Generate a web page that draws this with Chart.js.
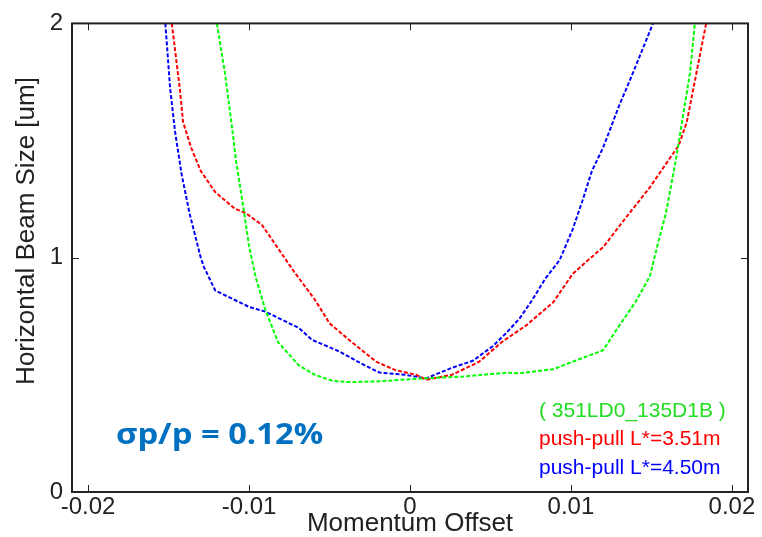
<!DOCTYPE html>
<html>
<head>
<meta charset="utf-8">
<script src="https://cdn.jsdelivr.net/npm/chart.js@4/dist/chart.umd.min.js"></script>
<style>
  html, body { margin: 0; padding: 0; background: #fff; }
  #wrap { width: 762px; height: 537px; }
</style>
</head>
<body>
<div id="wrap"><canvas id="beamChart" width="762" height="537"></canvas></div>
<script>
// --- data ---
const seriesNames = ['( 351LD0_135D1B )', 'push-pull L*=3.51m', 'push-pull L*=4.50m'];
const seriesColors = ['#00ff00', '#ff0000', '#0000ff'];

const baseOffset = [-0.0120, -0.0115, -0.0111, -0.0108, -0.0103, -0.0100, -0.0096, -0.0090, -0.0082, -0.0069,
  -0.0059, -0.0048, -0.0038, -0.0021, -0.0005, 0.0009, 0.0033, 0.0060, 0.0068, 0.0089,
  0.0101, 0.0120, 0.0130, 0.0140, 0.0149, 0.0154, 0.0159, 0.0165, 0.0169, 0.0174, 0.0177];
const baseSize = [2.00, 1.79, 1.58, 1.41, 1.19, 1.05, 0.92, 0.78, 0.64, 0.54,
  0.50, 0.474, 0.469, 0.472, 0.479, 0.485, 0.493, 0.509, 0.507, 0.524,
  0.556, 0.605, 0.71, 0.81, 0.92, 1.06, 1.19, 1.41, 1.58, 1.79, 2.00];

const pp351Offset = [-0.0148, -0.0143, -0.0141, -0.0136, -0.0130, -0.0121, -0.0109, -0.0102, -0.0092, -0.0084,
  -0.0072, -0.0059, -0.0050, -0.0038, -0.0021, -0.0009, 0.0004, 0.0010, 0.0026, 0.0043,
  0.0057, 0.0072, 0.0089, 0.0097, 0.0101, 0.0109, 0.0120, 0.0134, 0.0149, 0.0157,
  0.0167, 0.0172, 0.0176, 0.0180, 0.0184];
const pp351Size = [2.00, 1.72, 1.58, 1.47, 1.37, 1.28, 1.21, 1.19, 1.14, 1.06,
  0.94, 0.82, 0.72, 0.65, 0.556, 0.52, 0.50, 0.479, 0.50, 0.556,
  0.64, 0.71, 0.81, 0.89, 0.93, 0.98, 1.045, 1.17, 1.30, 1.38,
  1.48, 1.58, 1.72, 1.86, 2.00];

const pp450Offset = [-0.0152, -0.0149, -0.0146, -0.0142, -0.0137, -0.0130, -0.0128, -0.0121, -0.0100, -0.0090,
  -0.0069, -0.0061, -0.0044, -0.0028, -0.0019, -0.0003, 0.0010, 0.0026, 0.0039, 0.0051,
  0.0060, 0.0068, 0.0076, 0.0084, 0.0093, 0.0101, 0.0107, 0.0113, 0.0120, 0.0130,
  0.0138, 0.0151];
const pp450Size = [2.00, 1.72, 1.54, 1.36, 1.19, 1.00, 0.96, 0.86, 0.79, 0.77,
  0.70, 0.65, 0.60, 0.54, 0.51, 0.50, 0.485, 0.53, 0.56, 0.62,
  0.68, 0.74, 0.82, 0.91, 0.99, 1.12, 1.24, 1.37, 1.47, 1.65,
  1.78, 2.00];

const xTicks = [-0.02, -0.01, 0, 0.01, 0.02];
const yTicks = [0, 1, 2];
const annotation = 'σp/p = 0.12%';

function toPoints(xs, ys) {
  return xs.map((x, i) => ({ x: x, y: ys[i] }));
}

const datasets = [
  toPoints(baseOffset, baseSize),
  toPoints(pp351Offset, pp351Size),
  toPoints(pp450Offset, pp450Size)
].map((pts, idx) => ({
  label: seriesNames[idx],
  data: pts,
  showLine: true,
  borderColor: seriesColors[idx],
  borderWidth: 2,
  borderDash: [4, 2],
  pointRadius: 0,
  tension: 0
}));

// frame, inward ticks, y title, legend text and the sigma note
const framePlugin = {
  id: 'frame',
  afterDraw(chart) {
    const { ctx, chartArea: a, scales: { x, y } } = chart;
    ctx.save();
    ctx.strokeStyle = '#222';
    ctx.lineWidth = 2;
    ctx.strokeRect(a.left, a.top, a.right - a.left, a.bottom - a.top);
    ctx.lineWidth = 1;
    ctx.beginPath();
    xTicks.forEach(v => {
      const px = Math.round(x.getPixelForValue(v)) + 0.5;
      ctx.moveTo(px, a.bottom); ctx.lineTo(px, a.bottom - 7);
      ctx.moveTo(px, a.top); ctx.lineTo(px, a.top + 7);
    });
    yTicks.forEach(v => {
      const py = Math.round(y.getPixelForValue(v)) + 0.5;
      ctx.moveTo(a.left, py); ctx.lineTo(a.left + 7, py);
      ctx.moveTo(a.right, py); ctx.lineTo(a.right - 7, py);
    });
    ctx.stroke();

    // y axis title
    ctx.fillStyle = '#222';
    ctx.font = '26px "Liberation Sans", Arial, sans-serif';
    ctx.textAlign = 'center';
    ctx.textBaseline = 'middle';
    ctx.translate(27, 231);
    ctx.rotate(-Math.PI / 2);
    ctx.fillText('Horizontal Beam Size [um]', 0, 0);
    ctx.restore();

    // legend as plain coloured text
    ctx.save();
    ctx.font = '21px "Liberation Sans", Arial, sans-serif';
    ctx.textAlign = 'left';
    ctx.textBaseline = 'middle';
    chart.data.datasets.forEach((ds, i) => {
      ctx.fillStyle = i === 0 ? '#22dd22' : ds.borderColor;
      ctx.fillText(ds.label, 539, 411 + i * 28.5);
    });
    ctx.restore();

    // sigma note, a little stretched sideways like the slide text
    ctx.save();
    ctx.font = 'bold 28px "Open Sans", Lato, sans-serif';
    ctx.fillStyle = '#0070c0';
    ctx.textAlign = 'left';
    ctx.textBaseline = 'alphabetic';
    ctx.translate(116, 444);
    ctx.scale(1.17, 1);
    ctx.fillText(annotation, 0, 0);
    ctx.restore();
  }
};

new Chart(document.getElementById('beamChart'), {
  type: 'scatter',
  data: { datasets: datasets },
  options: {
    responsive: false,
    animation: false,
    layout: { padding: { left: 0, top: 17, right: 14, bottom: 0 } },
    plugins: {
      legend: { display: false },
      tooltip: { enabled: false }
    },
    scales: {
      x: {
        type: 'linear',
        min: -0.021,
        max: 0.021,
        afterBuildTicks: scale => { scale.ticks = xTicks.map(v => ({ value: v })); },
        afterFit: scale => { scale.height = 45; },
        grid: { display: false, drawTicks: false },
        border: { display: false },
        ticks: {
          color: '#222',
          padding: 1,
          font: { family: '"Liberation Sans", Arial, sans-serif', size: 24 },
          callback: v => String(Math.round(v * 100) / 100)
        },
        title: {
          display: true,
          text: 'Momentum Offset',
          color: '#222',
          padding: 0,
          font: { family: '"Liberation Sans", Arial, sans-serif', size: 26, lineHeight: 1.0 }
        }
      },
      y: {
        min: 0,
        max: 2,
        afterBuildTicks: scale => { scale.ticks = yTicks.map(v => ({ value: v })); },
        afterFit: scale => { scale.width = 72; },
        grid: { display: false, drawTicks: false },
        border: { display: false },
        ticks: {
          color: '#222',
          padding: 9,
          font: { family: '"Liberation Sans", Arial, sans-serif', size: 24 },
          callback: v => String(v)
        }
      }
    }
  },
  plugins: [framePlugin]
});
</script>
</body>
</html>
